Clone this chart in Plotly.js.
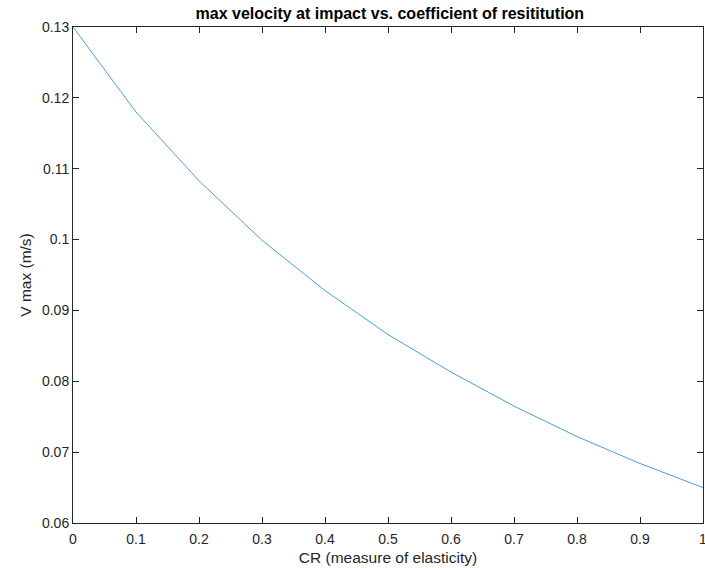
<!DOCTYPE html>
<html>
<head>
<meta charset="utf-8">
<script src="https://cdn.plot.ly/plotly-3.0.1.min.js"></script>
<style>html,body{margin:0;padding:0;background:#fff;}#chart{width:705px;height:568px;}</style>
</head>
<body>
<div id="chart"></div>
<script>
const cr = [0, 0.1, 0.2, 0.3, 0.4, 0.5, 0.6, 0.7, 0.8, 0.9, 1.0];
const vmax = [0.1300, 0.1180, 0.1083, 0.0999, 0.0928, 0.0866, 0.0813, 0.0765, 0.0722, 0.0684, 0.0650];
const xTicks = [0, 0.1, 0.2, 0.3, 0.4, 0.5, 0.6, 0.7, 0.8, 0.9, 1];
const yTicks = [0.06, 0.07, 0.08, 0.09, 0.1, 0.11, 0.12, 0.13];

const fam = 'Liberation Sans, Arial, sans-serif';
const tickFont = {family: fam, size: 14, color: '#262626'};
const titleFont = {family: fam, size: 15.5, color: '#262626'};
const axisCommon = {
  showline: true, mirror: 'ticks', linecolor: '#262626', linewidth: 1,
  ticks: 'inside', ticklen: 6, tickcolor: '#262626', tickwidth: 1,
  showgrid: false, zeroline: false, tickfont: tickFont, ticklabeloverflow: 'allow'
};

Plotly.newPlot('chart', [{
  x: cr, y: vmax, type: 'scatter', mode: 'lines',
  line: {color: '#4a9fdc', width: 1}
}], {
  width: 705, height: 568,
  margin: {l: 73, r: 2, t: 27, b: 45},
  paper_bgcolor: '#fff', plot_bgcolor: '#fff',
  showlegend: false,
  font: tickFont,
  title: {text: '<b>max velocity at impact vs. coefficient of resititution</b>', font: {family: fam, size: 16, color: '#000'}, x: 0.553, xanchor: 'center', y: 0.977, yanchor: 'middle'},
  xaxis: Object.assign({}, axisCommon, {range: [0, 1], tickvals: xTicks, ticktext: xTicks.map(String), ticklabelstandoff: 3,
    title: {text: 'CR (measure of elasticity)', font: titleFont, standoff: 6}}),
  yaxis: Object.assign({}, axisCommon, {range: [0.06, 0.13], tickvals: yTicks, ticktext: yTicks.map(String),
    title: {text: 'V max (m/s)', font: titleFont, standoff: 6}})
}, {displayModeBar: false, staticPlot: true});
</script>
</body>
</html>
